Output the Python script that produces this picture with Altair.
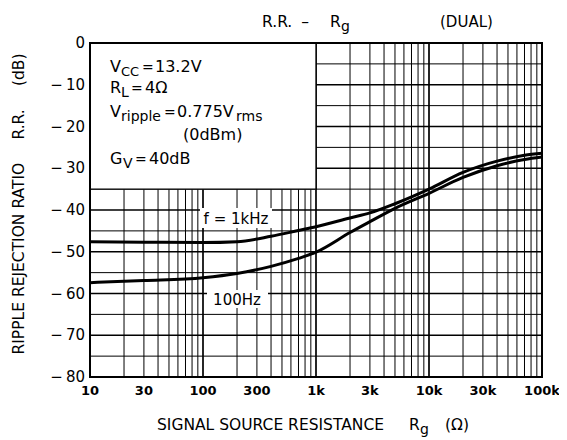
import altair as alt
import pandas as pd

# ---- data ----
rg = [10, 30, 100, 200, 400, 700, 1000, 2000, 3000, 5000, 10000, 20000, 40000, 70000, 100000]
rr_1khz = [-47.6, -47.7, -47.8, -47.6, -46.3, -44.9, -44.0, -41.9, -40.7, -38.5, -35.0, -31.0, -28.3, -26.9, -26.4]
rr_100hz = [-57.4, -56.9, -56.2, -55.2, -53.5, -51.6, -50.1, -45.4, -42.8, -39.6, -36.0, -32.2, -29.4, -27.9, -27.3]

x_tick_values = [10, 30, 100, 300, 1000, 3000, 10000, 30000, 100000]
x_tick_labels = ["10", "30", "100", "300", "1k", "3k", "10k", "30k", "100k"]
y_tick_values = [-80, -70, -60, -50, -40, -30, -20, -10, 0]
y_tick_labels = ["\u2212\u200980", "\u2212\u200970", "\u2212\u200960", "\u2212\u200950", "\u2212\u200940",
                 "\u2212\u200930", "\u2212\u200920", "\u2212\u200910", "0"]

x_grid_major = [10, 100, 1000, 10000, 100000]
x_grid_minor = [20, 30, 40, 50, 60, 70, 80, 90,
                200, 300, 400, 500, 600, 700, 800, 900,
                2000, 3000, 4000, 5000, 6000, 7000, 8000, 9000,
                20000, 30000, 40000, 50000, 60000, 70000, 80000, 90000]
y_grid_major = [-80, -70, -60, -50, -40, -30, -20, -10, 0]
y_grid_minor = [-75, -65, -55, -45, -35, -25, -15, -5]

FONT = "DejaVu Sans"
W, H = 452, 334

xs = alt.Scale(type="log", domain=[10, 100000], nice=False)
ys = alt.Scale(domain=[-80, 0], nice=False)

one = pd.DataFrame({"a": [0]})

vminor = alt.Chart(pd.DataFrame({"x": x_grid_minor})).mark_rule(color="black", strokeWidth=1).encode(
    x=alt.X("x:Q", scale=xs, axis=None), y=alt.value(0), y2=alt.value(H))
vmajor = alt.Chart(pd.DataFrame({"x": x_grid_major})).mark_rule(color="black", strokeWidth=1.7).encode(
    x=alt.X("x:Q", scale=xs, axis=None), y=alt.value(0), y2=alt.value(H))
hminor = alt.Chart(pd.DataFrame({"y": y_grid_minor})).mark_rule(color="black", strokeWidth=1).encode(
    y=alt.Y("y:Q", scale=ys, axis=None), x=alt.value(0), x2=alt.value(W))
hmajor = alt.Chart(pd.DataFrame({"y": y_grid_major})).mark_rule(color="black", strokeWidth=1.7).encode(
    y=alt.Y("y:Q", scale=ys, axis=None), x=alt.value(0), x2=alt.value(W))

# white condition box (top-left, up to 1k / -35 dB)
box = alt.Chart(one).mark_rect(fill="white", stroke="black", strokeWidth=1.3).encode(
    x=alt.value(0), x2=alt.value(W * 2 / 4), y=alt.value(0), y2=alt.value(H * 35 / 80))

curves_df = pd.DataFrame({
    "rg": rg + rg,
    "rr": rr_1khz + rr_100hz,
    "series": ["1kHz"] * len(rg) + ["100Hz"] * len(rg),
})
curves = alt.Chart(curves_df).mark_line(color="black", strokeWidth=3, interpolate="monotone").encode(
    x=alt.X("rg:Q", scale=xs, axis=None),
    y=alt.Y("rr:Q", scale=ys, axis=None),
    detail="series:N",
)

# tick labels (drawn through the scales)
xlabels = alt.Chart(pd.DataFrame({"v": x_tick_values, "t": x_tick_labels})).mark_text(
    font=FONT, fontSize=13, fontWeight="bold", align="center", baseline="top", color="black").encode(
    x=alt.X("v:Q", scale=xs, axis=None), y=alt.value(H + 8), text="t:N")
ylabels = alt.Chart(pd.DataFrame({"v": y_tick_values, "t": y_tick_labels})).mark_text(
    font=FONT, fontSize=15, align="right", baseline="middle", color="black").encode(
    y=alt.Y("v:Q", scale=ys, axis=None), x=alt.value(-5), text="t:N")

lab_bg1 = alt.Chart(one).mark_rect(fill="white").encode(
    x=alt.value(110), x2=alt.value(182), y=alt.value(165), y2=alt.value(185))
lab_bg2 = alt.Chart(one).mark_rect(fill="white").encode(
    x=alt.value(117), x2=alt.value(178), y=alt.value(247), y2=alt.value(265))

frame = alt.Chart(one).mark_rect(fillOpacity=0, stroke="black", strokeWidth=2).encode(
    x=alt.value(0), x2=alt.value(W), y=alt.value(0), y2=alt.value(H))


def txt(s, x, y, size=16, align="left", angle=0, weight="normal"):
    # x, y in page pixels; converted to plot-area pixels
    return alt.Chart(one).mark_text(text=s, font=FONT, fontSize=size, align=align, baseline="alphabetic",
                                    angle=angle, color="black", fontWeight=weight).encode(
        x=alt.value(x - 90), y=alt.value(y - 43))


texts = [
    # title
    txt("R.R.", 262, 27, 15.5), txt("\u2013", 305, 27, 15.5, align="center"), txt("R", 330, 27, 15.5),
    txt("g", 341, 31, 14), txt("(DUAL)", 440, 27, 15),
    # conditions
    txt("V", 110, 72), txt("CC", 121, 76, 13), txt("=", 142, 72, 14), txt("13.2V", 155, 72),
    txt("R", 110, 93), txt("L", 121, 97, 14), txt("=", 131, 93, 14), txt("4\u03a9", 145, 93),
    txt("V", 110, 117), txt("ripple", 121, 121, 14), txt("=", 164, 117, 14), txt("0.775V", 177, 117),
    txt("rms", 236, 121, 14),
    txt("(0dBm)", 183, 140),
    txt("G", 110, 164), txt("V", 123, 168, 14), txt("=", 135, 164, 14), txt("40dB", 149, 164),
    # curve labels
    txt("f = 1kHz", 236, 224, 15, align="center"),
    txt("100Hz", 237, 305, 15, align="center"),
    # x axis title
    txt("SIGNAL SOURCE RESISTANCE", 157, 430, 15.5), txt("R", 409, 430, 15.5), txt("g", 420, 434, 14),
    txt("(\u03a9)", 445, 430, 15.5),
    # y axis title
    txt("RIPPLE REJECTION RATIO\u2003\u2002R.R.\u2003\u2002(dB)", 24, 204, 15.5, align="center", angle=270),
]

chart = alt.layer(vminor, vmajor, hminor, hmajor, box, curves, lab_bg1, lab_bg2, frame,
                  xlabels, ylabels, *texts).properties(
    width=W, height=H,
    autosize=alt.AutoSizeParams(type="none"),
    padding={"left": 82, "top": 35, "right": 17, "bottom": 61},
).configure_view(stroke=None).configure(background="white")

chart.save("out.html", embed_options={"renderer": "svg", "actions": False})
